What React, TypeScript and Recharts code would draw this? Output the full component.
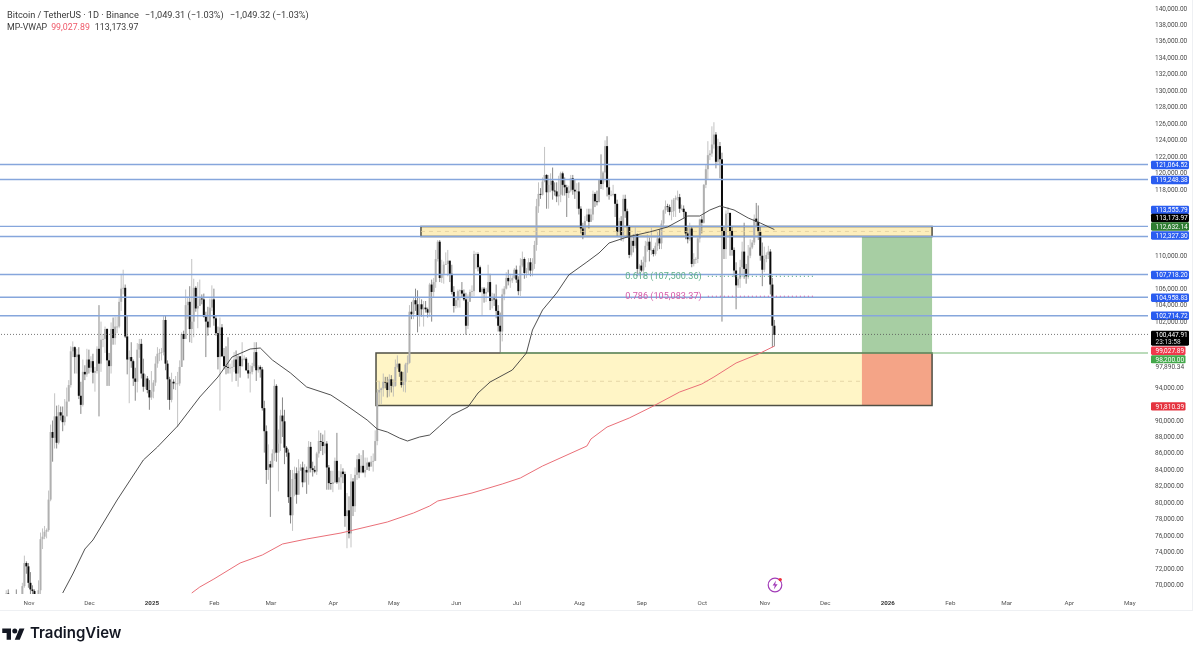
import React from "react";
import {
  ComposedChart, Bar, Line, XAxis, YAxis, ReferenceLine, ReferenceArea, ReferenceDot,
} from "recharts";

// Daily candles, thousand USDT, first candle 14 days before Nov 1 2024 (day 0)
const firstDay = -14;
const closesK = [
  68.4,68.4,69.0,67.4,67.4,66.7,68.2,66.6,67.0,68.0,69.9,72.7,72.3,70.3,
  69.5,69.3,68.8,67.8,69.4,75.6,75.9,76.5,76.7,80.4,88.6,87.9,90.5,87.3,91.0,90.6,89.8,90.5,92.3,94.3,98.4,98.9,97.7,98.0,93.0,91.9,95.9,95.6,97.4,96.4,
  97.2,95.8,96.0,98.7,96.9,99.8,99.9,101.1,97.3,96.6,101.1,100.0,101.4,101.4,104.4,106.0,106.1,100.2,97.4,97.7,97.2,95.1,94.7,98.6,99.3,95.7,94.1,95.1,93.7,92.8,93.5,
  94.6,96.9,98.1,98.2,98.3,102.2,96.9,95.0,92.5,94.7,94.5,94.5,94.5,96.5,100.5,99.9,104.0,104.4,101.1,102.0,106.1,103.6,103.9,104.8,104.7,102.6,102.0,101.3,103.7,104.7,102.4,
  100.6,97.7,101.3,97.8,96.6,96.5,96.4,96.4,96.5,97.4,95.7,97.8,96.6,97.5,97.5,96.1,95.7,95.9,96.6,98.3,96.1,96.5,96.2,91.5,88.7,84.0,84.7,84.3,
  86.0,94.2,86.1,87.2,90.6,89.9,86.7,86.1,80.7,78.5,82.9,83.6,81.0,83.9,84.3,82.5,84.0,83.7,86.8,84.2,84.0,83.8,86.0,87.5,87.4,86.9,87.2,84.3,82.4,82.3,82.5,
  85.1,82.5,83.1,83.8,83.5,78.4,79.1,76.3,82.6,79.6,83.4,85.3,83.7,84.5,83.7,84.0,84.9,84.4,85.0,85.1,87.5,93.4,93.7,93.9,94.7,94.6,93.7,95.0,94.2,94.2,
  96.5,96.9,95.9,94.3,94.7,96.8,97.0,103.2,102.9,104.6,104.1,102.8,104.1,103.5,103.7,103.5,103.1,106.5,105.6,106.8,109.6,111.7,107.3,107.8,108.9,109.0,109.4,107.8,105.6,103.9,104.6,
  105.7,105.8,105.4,104.7,101.5,104.4,105.6,105.7,110.2,110.2,108.6,105.6,106.0,105.4,105.6,106.8,104.5,104.8,104.7,103.3,101.5,100.8,105.3,106.0,107.3,106.9,107.0,107.3,108.3,107.1,
  105.7,108.8,109.6,107.9,108.2,109.2,108.2,109.0,111.3,116.0,117.5,117.4,119.0,119.8,117.7,118.6,119.1,117.9,117.8,117.2,117.4,120.0,118.6,118.3,117.6,117.9,119.4,118.0,117.8,117.8,115.7,
  113.3,112.5,114.2,115.0,114.1,115.0,117.5,116.6,116.5,119.3,118.7,120.1,123.3,118.3,117.4,117.4,117.5,116.3,112.9,114.2,112.5,116.9,115.4,113.5,110.1,111.8,111.2,112.6,108.4,108.8,108.2,
  109.2,111.2,111.7,110.7,110.7,110.2,111.2,112.1,111.5,113.9,115.5,116.0,115.9,115.3,115.4,116.8,117.0,117.1,115.7,115.7,115.3,112.7,112.0,113.3,109.0,109.6,109.6,112.1,114.4,114.0,
  118.6,120.5,122.2,122.4,123.5,124.7,121.4,123.3,121.7,113.0,110.8,115.1,115.2,113.0,110.7,108.2,106.4,107.2,108.6,110.5,108.4,107.5,110.0,111.0,111.6,114.5,114.1,112.9,110.0,108.3,109.6,
  110.1,110.5,106.5,101.5,100.4,
];
const highsK = [
  68.9,68.7,69.4,69.5,67.8,67.6,68.8,69.5,67.8,68.4,70.3,73.6,72.9,72.7,
  71.6,70.0,69.5,68.8,70.6,76.4,76.9,77.2,76.9,81.5,89.5,90.0,93.3,91.8,91.9,91.7,91.7,92.6,94.0,94.9,99.0,99.6,99.0,98.7,98.9,94.7,97.4,96.7,98.7,98.6,
  97.8,98.1,96.5,99.0,104.0,102.0,100.5,101.4,101.2,98.2,101.9,102.5,102.6,102.6,105.0,107.8,108.3,106.5,102.8,98.5,99.5,97.4,96.4,99.4,99.9,99.9,97.5,95.6,95.4,94.9,96.0,
  94.9,97.8,98.9,98.7,98.8,102.7,102.7,97.3,95.3,95.8,95.0,95.4,95.9,97.3,100.7,100.9,105.9,105.0,106.3,109.6,107.2,106.3,106.8,107.1,105.3,105.4,103.2,103.8,104.8,106.4,106.0,
  102.7,101.4,102.5,101.7,98.8,99.0,100.1,96.9,97.3,98.3,98.5,98.1,97.2,99.5,97.9,97.7,97.0,96.7,97.0,99.5,99.5,96.7,96.7,96.5,92.4,89.4,87.1,85.1,
  86.5,95.0,94.4,88.9,91.3,92.8,91.3,86.9,86.5,84.0,84.0,84.4,84.3,85.3,84.7,85.0,84.7,84.4,87.5,87.4,85.0,84.5,86.2,88.8,88.5,88.3,88.8,87.5,84.6,83.9,83.9,
  85.5,88.5,83.9,84.7,84.2,83.8,81.2,80.8,83.5,83.0,84.3,85.8,86.0,85.8,86.4,85.5,85.5,85.0,85.7,86.0,88.8,93.8,94.7,94.0,95.7,95.3,95.3,95.6,95.5,95.0,
  97.4,97.9,96.9,96.0,95.9,97.0,97.9,104.0,104.4,104.9,106.0,105.8,104.9,104.7,104.5,104.5,103.7,106.7,107.1,107.3,110.7,111.9,111.9,109.5,109.3,110.4,110.7,109.3,108.9,106.3,105.0,
  105.9,105.9,106.8,105.9,105.5,105.3,105.9,106.4,110.6,110.4,110.4,108.8,106.2,106.2,106.1,108.9,107.8,105.5,105.4,106.5,104.0,103.1,106.0,106.3,108.0,108.3,107.8,107.6,108.5,108.8,
  107.5,109.7,110.5,109.8,108.5,109.7,109.7,109.7,111.8,116.9,118.9,118.2,119.5,123.2,119.9,119.8,120.0,120.7,118.9,118.9,119.7,120.2,120.2,119.5,118.6,118.5,119.8,119.8,119.2,118.8,118.9,
  116.0,114.0,114.8,115.7,115.7,115.7,117.9,117.7,117.9,119.3,122.3,120.3,124.0,124.5,119.2,117.9,118.6,117.5,116.8,114.6,114.8,117.4,117.4,115.7,113.7,112.4,112.6,113.5,112.7,109.0,109.5,
  109.9,111.8,112.6,112.2,113.4,110.9,111.6,112.9,113.2,114.3,115.6,116.7,116.3,116.2,116.8,117.0,117.3,117.9,117.5,116.2,116.1,115.4,113.4,114.0,113.5,110.3,109.8,112.4,114.5,114.8,
  118.7,121.0,123.9,122.8,125.7,126.2,125.0,124.2,123.8,122.5,113.5,115.5,115.9,115.0,113.6,111.0,109.2,107.5,109.5,111.7,114.0,109.0,111.3,112.0,111.9,115.0,116.4,116.1,113.6,111.6,111.1,
  110.4,111.2,110.8,107.3,102.2,
];
const lowsK = [
  67.0,67.8,68.1,66.8,66.6,65.3,66.6,65.5,66.5,66.8,67.6,69.7,71.4,69.7,
  68.8,68.8,67.5,66.8,67.5,68.8,74.4,75.6,75.7,76.5,80.2,85.0,86.6,86.6,87.1,90.0,88.7,89.4,91.5,92.4,94.0,97.7,95.7,95.7,92.6,90.8,91.7,94.9,95.3,95.7,
  95.9,94.5,93.5,95.7,90.5,95.9,98.9,98.2,94.2,94.2,95.7,99.2,99.2,100.6,101.2,103.3,105.3,100.0,95.6,92.1,96.4,94.2,92.4,93.4,97.6,95.1,93.5,93.8,93.3,91.3,92.5,
  92.7,94.2,96.4,97.2,97.3,97.9,96.1,92.5,91.3,92.2,93.8,93.7,89.2,94.2,96.5,97.3,100.1,102.3,99.5,99.4,100.1,103.2,101.2,103.9,104.1,102.5,97.7,100.3,101.3,103.3,101.5,
  100.3,96.2,91.2,97.7,96.2,95.6,95.7,95.7,94.7,95.9,94.8,94.1,95.2,96.5,97.3,96.0,95.1,93.4,95.6,96.4,94.8,95.8,95.2,91.2,86.1,82.3,82.8,78.3,
  84.6,85.1,85.0,81.4,86.3,88.0,84.7,85.6,80.0,77.5,76.6,80.8,79.9,81.0,84.0,81.9,82.5,81.1,82.2,83.7,83.2,83.6,83.4,85.5,86.3,85.8,86.0,81.6,81.6,81.6,81.3,
  82.4,82.3,81.6,81.6,82.4,77.1,74.5,75.7,74.6,78.4,78.9,82.8,83.0,83.6,83.6,83.1,84.0,83.9,84.8,83.8,85.1,87.0,91.9,92.0,92.9,93.9,92.8,92.9,93.4,92.9,
  94.1,96.3,95.3,94.0,93.5,93.4,95.8,96.9,102.3,102.3,103.3,100.7,101.4,102.6,101.4,103.1,102.5,102.6,102.0,105.0,106.1,109.3,106.8,106.7,106.6,108.9,107.5,106.8,105.3,103.1,103.6,
  103.7,103.7,104.9,104.5,100.4,101.1,104.9,105.0,105.1,108.4,108.1,105.5,102.7,104.3,104.4,105.5,103.4,103.6,103.9,102.4,100.8,98.2,99.6,104.6,105.9,106.4,106.1,106.7,107.2,106.7,
  105.2,105.1,108.6,107.2,107.3,107.8,107.5,107.5,108.4,110.6,115.2,116.9,117.3,118.9,115.7,115.7,117.7,116.8,117.3,116.5,116.1,116.5,117.3,117.3,114.7,117.0,117.7,117.4,116.9,115.7,115.0,
  112.7,112.0,112.6,114.2,113.3,114.2,114.3,115.9,116.1,116.5,118.1,118.0,118.9,117.2,116.8,117.2,117.2,114.7,112.4,112.3,111.8,111.7,114.6,112.2,109.7,109.9,110.4,110.9,107.5,107.5,108.0,
  107.3,108.6,110.5,109.3,110.1,109.9,110.0,110.6,110.8,110.8,113.4,115.1,115.3,114.9,114.3,114.7,114.7,116.7,115.2,115.5,114.6,112.0,111.5,111.8,108.6,108.7,109.0,109.1,111.6,112.7,
  113.9,118.2,119.3,121.6,122.0,123.0,120.6,121.1,119.4,102.0,109.6,109.6,113.6,110.0,110.0,107.4,103.5,106.1,106.1,107.4,107.2,106.6,107.2,109.7,110.8,111.3,113.6,111.9,109.4,106.3,108.0,
  109.2,109.6,105.3,98.9,99.0,
];

// Anchored VWAP lines: day since Nov 1 2024 and price
const upperVwapDays = [16,21,27,31,43,56,63,73,84,93,100,109,114,120,129,137,149,155,160,167,172,177,183,187,193,198,203,209,217,222,228,239,246,249,254,261,267,276,282,287,296,307,316,326,332,337,342,349,356,362,369];
const upperVwapPrices = [69065,71371,74405,75497,80352,85206,86784,89332,92852,95279,97706,98677,98798,97342,95764,94065,93094,92123,91274,90060,88968,88604,87876,87512,87997,88240,89332,90667,91638,93337,94672,96128,98191,100983,103410,105473,107658,109235,110327,111541,112269,112876,113483,114818,114818,115546,116031,115546,114575,113968,113173.97];
const lowerVwapDays = [80,84,91,104,115,125,137,154,177,190,198,202,219,234,243,254,276,278,286,297,309,322,333,339,350,361,369];
const lowerVwapPrices = [69065,69793,70764,72706,73677,75012,75618,76347,77682,78774,79623,80230,81201,82293,83022,84478,86905,87754,89211,90303,91759,93458,94429,95279,96978,98070,99027.89];

const horizontalLevels = [121064.52,119248.38,113555.79,112327.30,107718.20,104958.83,102714.72];
const lastPrice = 100447.91;
const buyLevel = 98200.0;
const demandLow = 91810.39;
const demandMid = 94760;
const supplyHigh = 113555.79;
const supplyLow = 112327.30;
const supplyMid = 112941;
const targetTop = 112327.30;
const fibLevels = [107500.36, 105083.37];
const fibNames = ["0.618 (107,500.36)", "0.786 (105,083.37)"];

const priceTicks = [70000,72000,74000,76000,78000,80000,82000,84000,86000,88000,90000,94000,102000,104000,106000,110000,118000,120000,122000,124000,126000,128000,130000,132000,134000,136000,138000,140000];
const dayTicks = [0,30,61,92,120,151,181,212,242,273,304,334,365,395,426,457,485,516,546];
const dayLabels = ["Nov","Dec","2025","Feb","Mar","Apr","May","Jun","Jul","Aug","Sep","Oct","Nov","Dec","2026","Feb","Mar","Apr","May"];

const badgeValues = [121064.52,119248.38,113555.79,113173.97,112632.14,112327.30,107718.20,104958.83,102714.72,99027.89,98200.0,91810.39];
const badgeFills = ["#2a5df0","#2a5df0","#2a5df0","#000000","#2e7d32","#2a5df0","#2a5df0","#2a5df0","#2a5df0","#f0394c","#43a84a","#e5333f"];
const badgeOffsets = [0.5,0.5,-16.5,-11.5,-7.5,-1,0.5,0.5,0,4.7,6.4,0.8];
const badgeWidths = [38,38,38,38,38,38,38,38,38,34.5,34.5,34.5];

const fmt = (v: number) => v.toLocaleString("en-US", { minimumFractionDigits: 2, maximumFractionDigits: 2 });

type Row = { day: number; open?: number; close?: number; high?: number; low?: number; upper?: number; lower?: number };
const rows: Row[] = closesK.map((c, i) => ({
  day: firstDay + i,
  open: (i === 0 ? closesK[0] : closesK[i - 1]) * 1000,
  close: c * 1000,
  high: highsK[i] * 1000,
  low: lowsK[i] * 1000,
}));
upperVwapDays.forEach((d, i) => { rows[d - firstDay].upper = upperVwapPrices[i]; });
lowerVwapDays.forEach((d, i) => { rows[d - firstDay].lower = lowerVwapPrices[i]; });

const DAY_MIN = -15.1;
const DAY_MAX = 554.3;
const PRICE_MIN = 68944;
const PRICE_MAX = 141032;
const SANS = "Roboto, 'Liberation Sans', sans-serif";

function Candle(props: any) {
  const { x, y, width, height, payload } = props;
  const { open, close, high, low } = payload;
  const span = Math.max(high - low, 1);
  const yOf = (p: number) => y + ((high - p) / span) * height;
  const cx = x + width / 2;
  const down = close < open;
  const top = yOf(Math.max(open, close));
  const bottom = yOf(Math.min(open, close));
  return (
    <g>
      <line x1={cx} x2={cx} y1={y} y2={y + height} stroke={down ? "#6a6a6a" : "#b4b4b4"} strokeWidth={0.8} />
      <rect x={cx - 1} y={top} width={2} height={Math.max(bottom - top, 0.8)} fill={down ? "#0a0a0a" : "#b0b0b0"} />
    </g>
  );
}

function PriceTick(props: any) {
  const { x, y, payload } = props;
  return <text x={x - 1} y={y + 2} fontSize={6.5} fontFamily={SANS} fill="#4a4a4a">{fmt(payload.value)}</text>;
}

function DayTick(props: any) {
  const { x, y, payload } = props;
  const i = dayTicks.indexOf(payload.value);
  const label = dayLabels[i];
  const strong = label === "2025" || label === "2026";
  return (
    <text x={x - 1.5} y={y + 3} textAnchor="middle" fontSize={6.2} fontFamily={SANS} fontWeight={strong ? 700 : 400} fill={strong ? "#333" : "#555"}>
      {label}
    </text>
  );
}

const Badge = (value: number, fill: string, dy: number, w: number) => (p: any) => (
  <g>
    <rect x={p.cx + 3} y={p.cy + dy - 4.2} width={w} height={8.4} rx={1.4} fill={fill} />
    <text x={p.cx + 7.5} y={p.cy + dy + 2.2} fontSize={6.5} fontFamily={SANS} fill="#fff">{fmt(value)}</text>
  </g>
);

const BoltIcon = () => (
  <svg style={{ position: "absolute", left: 765, top: 575 }} width={20} height={20} viewBox="0 0 20 20">
    <circle cx={10} cy={10} r={6.8} fill="#fff" stroke="#a23cb8" strokeWidth={1.2} />
    <path d="M11 5.6 L7.6 10.6 H9.8 L8.8 14.4 L12.6 9.2 H10.2 Z" fill="#a23cb8" />
    <circle cx={15.2} cy={4.6} r={1.7} fill="#ee2f3b" />
  </svg>
);

export default function App() {
  return (
    <div style={{ position: "absolute", left: 0, top: 0, width: 1200, height: 656, background: "#fff", overflow: "hidden", filter: "blur(0.35px)" }}>
      <div style={{ position: "absolute", left: 0, top: 0, width: 1192, height: 610, borderRight: "1px solid #eef0f3", borderBottom: "1px solid #eef0f3" }}>
        <ComposedChart width={1192} height={610} data={rows} margin={{ top: 0, right: 0, bottom: 0, left: 0 }}>
          <XAxis dataKey="day" type="number" domain={[DAY_MIN, DAY_MAX]} allowDataOverflow ticks={dayTicks} interval={0} axisLine={false} tickLine={false} height={16} tick={<DayTick />} />
          <YAxis orientation="right" type="number" domain={[PRICE_MIN, PRICE_MAX]} allowDataOverflow ticks={priceTicks} interval={0} axisLine={false} tickLine={false} width={44} tick={<PriceTick />} />

          {horizontalLevels.map((v) => (
            <ReferenceLine key={v} y={v} stroke="#86a6dc" strokeWidth={1.4} />
          ))}
          <ReferenceLine y={lastPrice} stroke="#555" strokeWidth={0.8} strokeDasharray="1 2" />

          <ReferenceArea x1={171.4} x2={447.2} y1={demandLow} y2={buyLevel} fill="#fff5c6" fillOpacity={1} stroke="none" />
          <ReferenceArea x1={412.4} x2={447.2} y1={buyLevel} y2={targetTop} fill="#a7cea3" fillOpacity={1} stroke="none" />
          <ReferenceArea x1={412.4} x2={447.2} y1={demandLow} y2={buyLevel} fill="#f4a487" fillOpacity={1} stroke="none" />
          <ReferenceArea x1={193.7} x2={447.2} y1={supplyLow} y2={supplyHigh} fill="#fdeebc" fillOpacity={1} stroke="none" />
          <ReferenceLine segment={[{ x: 171.4, y: demandMid }, { x: 412.4, y: demandMid }]} stroke="#e0cfa0" strokeWidth={0.8} strokeDasharray="4 4" />
          <ReferenceLine segment={[{ x: 193.7, y: supplyMid }, { x: 447.2, y: supplyMid }]} stroke="#e0cfa0" strokeWidth={0.8} strokeDasharray="4 4" />
          <ReferenceArea x1={171.4} x2={447.2} y1={demandLow} y2={buyLevel} fill="none" stroke="#4f4f44" strokeWidth={1.5} />
          <ReferenceArea x1={193.7} x2={447.2} y1={supplyLow} y2={supplyHigh} fill="none" stroke="#4f4f44" strokeWidth={1.5} />
          <ReferenceLine segment={[{ x: 233, y: buyLevel }, { x: DAY_MAX, y: buyLevel }]} stroke="#76b877" strokeWidth={1.1} />

          <Bar dataKey={(r: Row) => [r.low, r.high]} barSize={2} isAnimationActive={false} shape={<Candle />} />
          <Line dataKey="upper" type="linear" connectNulls dot={false} stroke="#3c3c3c" strokeWidth={0.9} isAnimationActive={false} />
          <Line dataKey="lower" type="linear" connectNulls dot={false} stroke="#ea6f78" strokeWidth={1} isAnimationActive={false} />

          <ReferenceLine segment={[{ x: 336, y: fibLevels[0] }, { x: 389, y: fibLevels[0] }]} stroke="#3f9d72" strokeWidth={1} strokeDasharray="1 3" />
          <ReferenceLine segment={[{ x: 336, y: fibLevels[1] }, { x: 389, y: fibLevels[1] }]} stroke="#d14a9e" strokeWidth={1} strokeDasharray="1 3" />
          <ReferenceDot x={295} y={fibLevels[0]} r={0} ifOverflow="visible" shape={(p: any) => (
            <text x={p.cx} y={p.cy + 3} fontSize={9.1} fontFamily={SANS} fill="#5fae8a">{fibNames[0]}</text>
          )} />
          <ReferenceDot x={295} y={fibLevels[1]} r={0} ifOverflow="visible" shape={(p: any) => (
            <text x={p.cx} y={p.cy + 3} fontSize={9.1} fontFamily={SANS} fill="#d65ca8">{fibNames[1]}</text>
          )} />

          {badgeValues.map((v, i) => (
            <ReferenceDot key={v} x={DAY_MAX} y={v} r={0} ifOverflow="visible" shape={Badge(v, badgeFills[i], badgeOffsets[i], badgeWidths[i])} />
          ))}
          <ReferenceDot x={DAY_MAX} y={lastPrice} r={0} ifOverflow="visible" shape={(p: any) => (
            <g>
              <rect x={p.cx + 3} y={p.cy - 3.7} width={38} height={15} rx={1.4} fill="#000" />
              <text x={p.cx + 7.5} y={p.cy + 2.6} fontSize={6.5} fontFamily={SANS} fill="#fff">{fmt(lastPrice)}</text>
              <text x={p.cx + 7.5} y={p.cy + 9.4} fontSize={6.5} fontFamily={SANS} fill="#ddd">23:13:58</text>
            </g>
          )} />
          <ReferenceDot x={DAY_MAX} y={97890.34} r={0} ifOverflow="visible" shape={(p: any) => (
            <g>
              <rect x={p.cx + 3} y={p.cy + 8} width={38} height={8} fill="#fff" />
              <text x={p.cx + 7.5} y={p.cy + 13.6} fontSize={6.5} fontFamily={SANS} fill="#4a4a4a">{fmt(97890.34)}</text>
            </g>
          )} />
        </ComposedChart>
      </div>

      <div style={{ position: "absolute", left: 7, top: 9, font: `9.2px/12px ${SANS}`, color: "#3a3a3a", whiteSpace: "nowrap" }}>
        Bitcoin / TetherUS · 1D · Binance
        <span style={{ marginLeft: 6 }}>−1,049.31 (−1.03%)</span>
        <span style={{ marginLeft: 6 }}>−1,049.32 (−1.03%)</span>
      </div>
      <div style={{ position: "absolute", left: 7, top: 21, font: `8.8px/12px ${SANS}`, color: "#3a3a3a", whiteSpace: "nowrap" }}>
        MP-VWAP
        <span style={{ marginLeft: 4, color: "#ef5a6a" }}>99,027.89</span>
        <span style={{ marginLeft: 5 }}>113,173.97</span>
      </div>

      <BoltIcon />

      <svg style={{ position: "absolute", left: 2, top: 626 }} width={23} height={15} viewBox="0 0 36 24">
        <path d="M14 22H7V11H0V4h14v18zM28 22h-8l7.5-18h8L28 22z" fill="#131722" />
        <circle cx={20} cy={8} r={4} fill="#131722" />
      </svg>
      <div style={{ position: "absolute", left: 30, top: 623, font: "600 15px/20px Inter, sans-serif", color: "#131722", whiteSpace: "nowrap" }}>TradingView</div>
    </div>
  );
}
